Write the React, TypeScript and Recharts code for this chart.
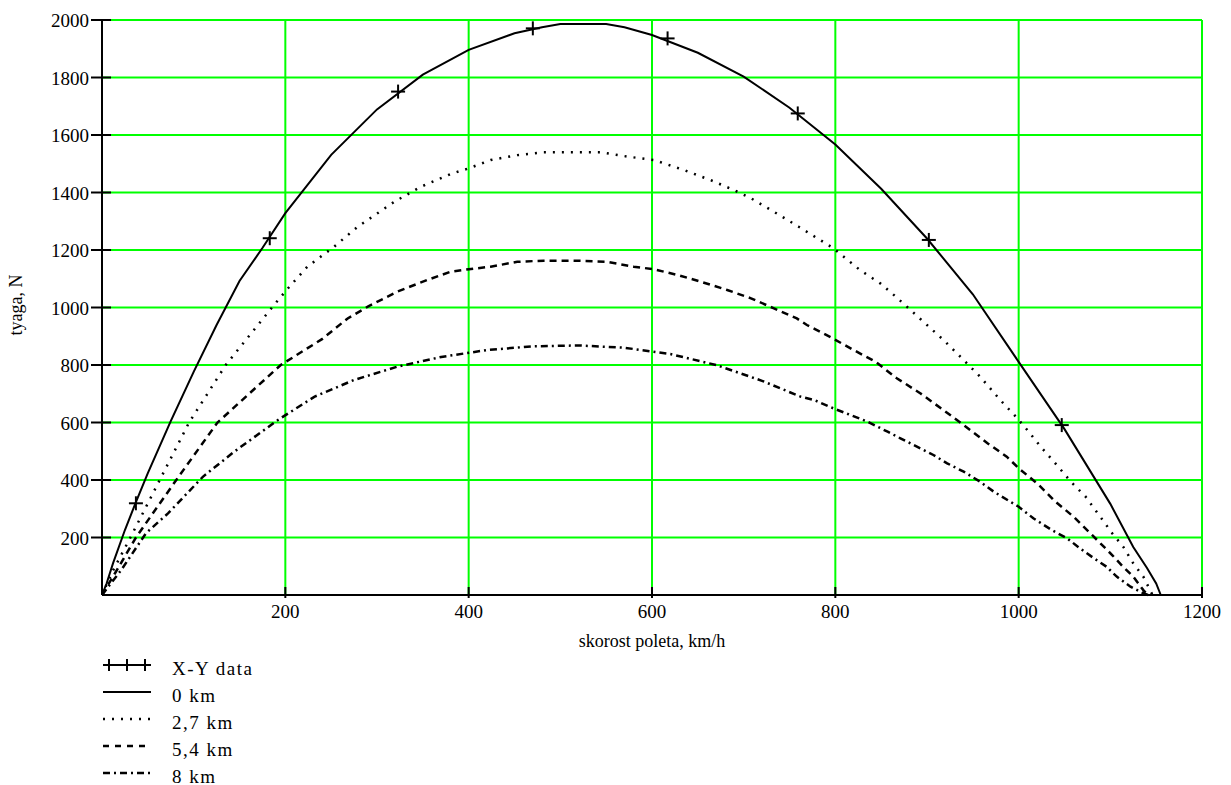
import { LineChart, Line, XAxis, YAxis, CartesianGrid } from "recharts";

// values
const xyX = [37, 183, 323, 470, 617, 759, 902, 1047];
const xyY = [319, 1241, 1751, 1971, 1936, 1675, 1235, 591];

const km0X = [0, 5, 12, 25, 37, 50, 75, 100, 125, 150, 175, 200, 250, 300, 350, 400, 450, 480, 500, 550, 570, 600, 650, 700, 750, 800, 850, 900, 950, 1000, 1050, 1100, 1125, 1140, 1150, 1155];
const km0Y = [0, 40, 110, 226, 323, 424, 605, 776, 939, 1092, 1207, 1328, 1531, 1689, 1810, 1896, 1954, 1975, 1986, 1986, 1975, 1948, 1886, 1803, 1695, 1567, 1413, 1240, 1046, 811, 577, 317, 167, 94, 40, 0];

const km27X = [0, 12, 31, 63, 95, 135, 188, 203, 224, 253, 279, 319, 348, 380, 400, 424, 453, 482, 508, 544, 573, 602, 635, 664, 689, 708, 733, 760, 798, 827, 849, 864, 878, 900, 918, 942, 958, 980, 997, 1011, 1024, 1040, 1057, 1073, 1089, 1102, 1114, 1125, 1136, 1146];
const km27Y = [0, 85, 200, 400, 600, 800, 1010, 1067, 1142, 1211, 1281, 1368, 1420, 1464, 1484, 1513, 1530, 1540, 1540, 1540, 1525, 1513, 1478, 1443, 1409, 1380, 1333, 1281, 1206, 1130, 1084, 1043, 1003, 939, 887, 811, 759, 678, 620, 568, 516, 458, 394, 342, 272, 215, 168, 110, 64, 0];

const km54X = [0, 15, 37, 81, 126, 195, 240, 268, 290, 322, 355, 381, 400, 424, 453, 482, 515, 551, 580, 602, 628, 653, 682, 708, 733, 758, 769, 797, 820, 844, 867, 893, 918, 940, 966, 987, 1000, 1022, 1040, 1060, 1080, 1102, 1114, 1125, 1136, 1141];
const km54Y = [0, 80, 200, 400, 600, 800, 890, 962, 1003, 1055, 1096, 1125, 1133, 1142, 1159, 1163, 1163, 1159, 1142, 1133, 1113, 1090, 1061, 1032, 997, 962, 939, 893, 852, 811, 754, 701, 643, 591, 528, 481, 441, 383, 325, 272, 209, 139, 98, 64, 17, 0];

const km8X = [0, 21, 48, 72, 110, 144, 192, 232, 275, 322, 370, 420, 470, 520, 570, 620, 670, 720, 762, 777, 798, 835, 857, 871, 889, 907, 922, 940, 958, 973, 1000, 1016, 1036, 1053, 1067, 1082, 1096, 1107, 1122, 1136, 1141];
const km8Y = [0, 87, 215, 284, 411, 498, 609, 690, 748, 794, 828, 852, 865, 868, 860, 838, 800, 745, 690, 678, 649, 603, 568, 545, 516, 487, 458, 429, 394, 359, 307, 267, 226, 197, 162, 128, 98, 64, 29, 6, 0];

const xTicks = [200, 400, 600, 800, 1000, 1200];
const yTicks = [200, 400, 600, 800, 1000, 1200, 1400, 1600, 1800, 2000];

const FONT = "'Liberation Serif', 'Times New Roman', serif";

const toPts = (xs: number[], ys: number[]) => xs.map((x, i) => ({ x, y: ys[i] }));

const YTick = ({ x, y, payload }: any) => {
  const ax = x + 13;
  return (
    <g>
      <line x1={ax - 11} x2={ax + 9} y1={y} y2={y} stroke="#000" strokeWidth={2} />
      <text x={ax - 13} y={y + 7} textAnchor="end" fill="#000" style={{ fontFamily: FONT, fontSize: 19 }}>
        {payload.value}
      </text>
    </g>
  );
};

const XTick = ({ x, y, payload }: any) => {
  const ay = y - 5;
  return (
    <g>
      <line x1={x} x2={x} y1={ay - 8} y2={ay + 3} stroke="#000" strokeWidth={2} />
      <text x={x} y={ay + 23} textAnchor="middle" fill="#000" style={{ fontFamily: FONT, fontSize: 19 }}>
        {payload.value}
      </text>
    </g>
  );
};

const Plus = ({ cx, cy }: any) => (
  <g stroke="#000" strokeWidth={2}>
    <line x1={cx - 7} x2={cx + 7} y1={cy} y2={cy} />
    <line x1={cx} x2={cx} y1={cy - 7} y2={cy + 7} />
  </g>
);

const legendRows = [
  { label: "X-Y data", dash: "plus" },
  { label: "0 km", dash: "" },
  { label: "2,7 km", dash: "2 7" },
  { label: "5,4 km", dash: "6 6" },
  { label: "8 km", dash: "7 4 2 4" },
];

export default function App() {
  return (
    <div style={{ position: "relative", width: 1231, height: 785, background: "#fff", fontFamily: FONT }}>
      <style>{`body{margin:0}`}</style>
      <LineChart width={1231} height={785} margin={{ top: 20, right: 29, bottom: 160, left: 42 }}>
        <CartesianGrid stroke="#00ff00" strokeWidth={2} horizontalValues={yTicks} verticalValues={xTicks} />
        <XAxis
          dataKey="x"
          type="number"
          domain={[0, 1200]}
          ticks={xTicks}
          tickSize={3}
          tickMargin={2}
          tickLine={false}
          axisLine={{ stroke: "#000", strokeWidth: 2 }}
          tick={<XTick />}
          height={30}
          allowDuplicatedCategory={false}
        />
        <YAxis
          type="number"
          domain={[0, 2000]}
          ticks={yTicks}
          tickSize={11}
          tickMargin={2}
          tickLine={false}
          axisLine={{ stroke: "#000", strokeWidth: 2 }}
          tick={<YTick />}
          width={60}
        />
        <Line data={toPts(km0X, km0Y)} dataKey="y" type="linear" stroke="#000" strokeWidth={2} dot={false} isAnimationActive={false} />
        <Line data={toPts(km27X, km27Y)} dataKey="y" type="linear" stroke="#000" strokeWidth={2.5} strokeDasharray="2 7" dot={false} isAnimationActive={false} />
        <Line data={toPts(km54X, km54Y)} dataKey="y" type="linear" stroke="#000" strokeWidth={2.5} strokeDasharray="7 5" dot={false} isAnimationActive={false} />
        <Line data={toPts(km8X, km8Y)} dataKey="y" type="linear" stroke="#000" strokeWidth={2.5} strokeDasharray="7 4 2 4" dot={false} isAnimationActive={false} />
        <Line data={toPts(xyX, xyY)} dataKey="y" type="linear" stroke="none" dot={<Plus />} activeDot={false} isAnimationActive={false} />
      </LineChart>

      <div style={{ position: "absolute", left: 0, top: 305, width: 30, height: 0 }}>
        <div style={{ position: "absolute", left: 16, top: 0, transform: "translate(-50%, -50%) rotate(-90deg)", whiteSpace: "nowrap", fontSize: 18 }}>
          tyaga, N
        </div>
      </div>
      <div style={{ position: "absolute", left: 652, top: 641, transform: "translate(-50%, -50%)", whiteSpace: "nowrap", fontSize: 18 }}>
        skorost poleta, km/h
      </div>

      <div style={{ position: "absolute", left: 100, top: 655 }}>
        {legendRows.map((r) => (
          <div key={r.label} style={{ display: "flex", alignItems: "center", height: 27 }}>
            <svg width={54} height={27} style={{ display: "block" }}>
              {r.dash === "plus" ? (
                <g stroke="#000" strokeWidth={2}>
                  <line x1={3} x2={51} y1={10} y2={10} />
                  <line x1={9} x2={9} y1={4} y2={16} />
                  <line x1={27} x2={27} y1={4} y2={16} />
                  <line x1={45} x2={45} y1={4} y2={16} />
                </g>
              ) : (
                <line x1={3} x2={51} y1={10} y2={10} stroke="#000" strokeWidth={r.dash ? 2.5 : 2} strokeDasharray={r.dash || undefined} />
              )}
            </svg>
            <span style={{ marginLeft: 18, fontSize: 19, letterSpacing: 1.5, lineHeight: "27px" }}>{r.label}</span>
          </div>
        ))}
      </div>
    </div>
  );
}
